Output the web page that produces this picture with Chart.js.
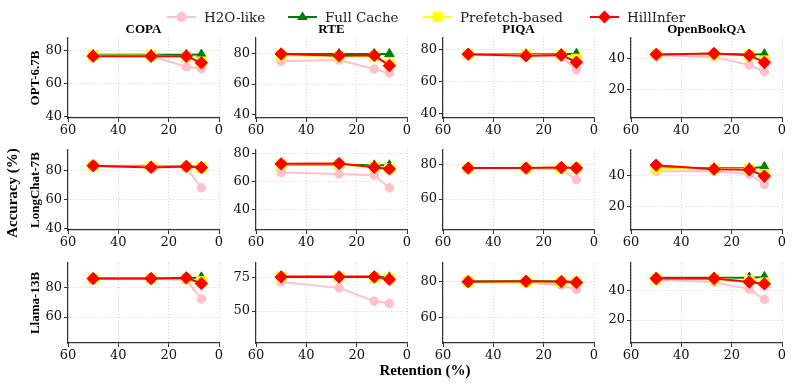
<!DOCTYPE html>
<html>
<head>
<meta charset="utf-8">
<script src="https://cdn.jsdelivr.net/npm/chart.js@4.4.0/dist/chart.umd.min.js"></script>
<style>
    body { margin: 0; background: #fff; width: 793px; height: 384px; position: relative; overflow: hidden; }
    canvas { position: absolute; }
    .lbl { position: absolute; font-family: 'Liberation Serif', 'Times New Roman', serif; font-weight: bold; color: #000; white-space: nowrap; }
    .rot { transform: translate(-50%, -50%) rotate(-90deg); }
    .ctr { transform: translate(-50%, -50%); }
    .leg { position: absolute; top: 9px; height: 16px; display: flex; align-items: center; font-family: 'DejaVu Serif', serif; font-size: 13.5px; color: #222; white-space: nowrap; }
    .leg svg { margin-right: 8px; }
</style>
</head>
<body>
<script>
// x values and labels
const retention = [50, 27, 13, 7];
const tasks = ['COPA', 'RTE', 'PIQA', 'OpenBookQA'];
const models = ['OPT-6.7B', 'LongChat-7B', 'Llama-13B'];
const methods = ['H2O-like', 'Full Cache', 'Prefetch-based', 'HillInfer'];

// accuracy per task (COPA, RTE, PIQA, OpenBookQA), 4 retention points each
const optH2O      = [[76.5, 76.5, 70, 68.8], [74.8, 75.7, 69.8, 67.2], [77, 76, 75.5, 67.3], [42, 41, 35.7, 31.4]];
const optFull     = [[77.2, 77.2, 77.2, 77.4], [79.6, 79.6, 79.6, 79.6], [77, 77, 77, 77.2], [42.5, 43, 42.5, 42.7]];
const optPrefetch = [[76.8, 76.8, 76, 73], [78.8, 78.2, 78.2, 73], [77, 76.5, 76.5, 74], [42.5, 42.5, 42, 38.5]];
const optHill     = [[76.4, 76.4, 76.4, 72.4], [79.6, 78.5, 78.7, 72], [77, 76, 76.5, 72], [42.6, 43.2, 42.1, 37.4]];

const lcH2O      = [[83, 83.5, 82, 68.2], [66.5, 65.5, 64.6, 55.6], [78, 78, 77.5, 71.3], [43, 43, 41, 34.3]];
const lcFull     = [[83, 82.8, 82.8, 82.5], [72, 72, 71.7, 71.7], [78, 78, 78.2, 78], [45.5, 45, 45, 45.8]];
const lcPrefetch = [[83, 82.5, 82.5, 82], [72.2, 72.2, 70.5, 69.5], [78, 78, 78, 78], [45, 44.5, 44.5, 41]];
const lcHill     = [[83.3, 82.1, 82.8, 82], [72.7, 72.9, 70.3, 69.1], [78, 78, 78.3, 78], [47, 44.4, 44, 39.8]];

const llH2O      = [[86, 86, 85, 72.2], [72, 67.5, 57.5, 55.8], [80, 79.5, 78, 75.5], [47.5, 46, 41, 34.2]];
const llFull     = [[86, 86, 86, 86.8], [76, 76, 76, 75.5], [80.2, 80.2, 80.2, 80], [49, 49, 49, 49.5]];
const llPrefetch = [[86, 86, 86, 84], [75.8, 75.8, 75.5, 74.5], [80, 80, 80, 79.8], [48, 48, 47, 45.5]];
const llHill     = [[86, 86, 86.5, 82.7], [75.8, 75.8, 75.8, 74], [80, 80.2, 80, 79.5], [48.4, 48.4, 46, 44.7]];

// y-axis limits and tick steps per panel
const optYLim = [[39, 87.4], [37.9, 90], [37.5, 87], [1.5, 53.2]];
const lcYLim  = [[39.3, 94], [25.5, 82.6], [42, 88.5], [4.3, 57]];
const llYLim  = [[42.5, 96.5], [25.8, 86.3], [45.5, 90.5], [4.3, 59]];
const yStep   = [[20, 20, 20, 20], [20, 20, 20, 20], [20, 25, 20, 20]];

const seriesByModel = [
    [optH2O, optFull, optPrefetch, optHill],
    [lcH2O, lcFull, lcPrefetch, lcHill],
    [llH2O, llFull, llPrefetch, llHill]
];
const yLims = [optYLim, lcYLim, llYLim];

const styles = [
    { color: 'pink', pointStyle: 'circle', radius: 4.3, order: 4 },
    { color: 'green', pointStyle: 'triangle', radius: 5.5, order: 3 },
    { color: 'yellow', pointStyle: 'rect', radius: 6.8, order: 2 },
    { color: 'red', pointStyle: 'rectRot', radius: 6.2, order: 1 }
];

// plot area geometry
const colLeft = [68, 256, 443, 631];
const rowTop = [38, 150, 263];
const plotW = 151, plotH = 80;
const PADL = 44, PADR = 16, PADT = 16, PADB = 26;

const tickFont = { family: 'DejaVu Serif', size: 13 };
const gridColor = 'rgba(0,0,0,0.22)';

models.forEach((model, r) => {
    tasks.forEach((task, c) => {
        const canvas = document.createElement('canvas');
        canvas.width = plotW + PADL + PADR;
        canvas.height = plotH + PADT + PADB;
        canvas.style.left = (colLeft[c] - PADL) + 'px';
        canvas.style.top = (rowTop[r] - PADT) + 'px';
        document.body.appendChild(canvas);

        const datasets = methods.map((m, k) => ({
            label: m,
            data: retention.map((x, i) => ({ x: x, y: seriesByModel[r][k][c][i] })),
            borderColor: styles[k].color,
            backgroundColor: styles[k].color,
            borderWidth: 2,
            pointStyle: styles[k].pointStyle,
            pointRadius: styles[k].radius,
            pointBorderWidth: 1,
            pointBackgroundColor: styles[k].color,
            pointBorderColor: styles[k].color,
            order: styles[k].order,
            tension: 0
        }));

        new Chart(canvas, {
            type: 'line',
            data: { datasets },
            options: {
                responsive: false,
                animation: false,
                layout: { padding: { left: 0, right: PADR, top: PADT, bottom: 0 } },
                plugins: { legend: { display: false }, tooltip: { enabled: false } },
                scales: {
                    x: {
                        type: 'linear',
                        reverse: true,
                        min: 0,
                        max: 60,
                        afterFit: (s) => { s.height = PADB; },
                        ticks: { stepSize: 20, font: tickFont, color: '#111', padding: 1, maxRotation: 0 },
                        grid: { color: gridColor, lineWidth: 0.8, tickColor: '#333', tickLength: 4, tickWidth: 1, tickBorderDash: [] },
                        border: { color: '#333', width: 1.2, dash: [1, 2] }
                    },
                    y: {
                        type: 'linear',
                        min: yLims[r][c][0],
                        max: yLims[r][c][1],
                        afterFit: (s) => { s.width = PADL; },
                        ticks: { stepSize: yStep[r][c], includeBounds: false, font: tickFont, color: '#111', padding: 2 },
                        grid: { color: gridColor, lineWidth: 0.8, tickColor: '#333', tickLength: 4, tickWidth: 1, tickBorderDash: [] },
                        border: { color: '#333', width: 1.2, dash: [1, 2] }
                    }
                }
            }
        });
    });
});

// column titles
const titleY = 29;
tasks.forEach((task, c) => {
    const d = document.createElement('div');
    d.className = 'lbl ctr';
    d.style.fontSize = '13px';
    d.style.left = (colLeft[c] + plotW / 2) + 'px';
    d.style.top = titleY + 'px';
    d.textContent = task;
    document.body.appendChild(d);
});

// row labels
models.forEach((model, r) => {
    const d = document.createElement('div');
    d.className = 'lbl rot';
    d.style.fontSize = '13px';
    d.style.left = '35px';
    d.style.top = (rowTop[r] + plotH / 2) + 'px';
    d.textContent = model;
    document.body.appendChild(d);
});

// shared axis titles
const yTitle = document.createElement('div');
yTitle.className = 'lbl rot';
yTitle.style.fontSize = '15px';
yTitle.style.left = '12px';
yTitle.style.top = '193px';
yTitle.textContent = 'Accuracy (%)';
document.body.appendChild(yTitle);

const xTitle = document.createElement('div');
xTitle.className = 'lbl ctr';
xTitle.style.fontSize = '15px';
xTitle.style.left = '425px';
xTitle.style.top = '370px';
xTitle.textContent = 'Retention (%)';
document.body.appendChild(xTitle);

// legend
const legendX = [167, 288, 423, 590];
const markerSvg = [
    '<circle cx="14.5" cy="8" r="5" fill="pink"/>',
    '<polygon points="14.5,2.5 20,11 9,11" fill="green"/>',
    '<rect x="9.5" y="3" width="10" height="10" fill="yellow"/>',
    '<polygon points="14.5,1.5 21,8 14.5,14.5 8,8" fill="red"/>'
];
methods.forEach((m, k) => {
    const item = document.createElement('div');
    item.className = 'leg';
    item.style.left = legendX[k] + 'px';
    item.innerHTML = '<svg width="29" height="16"><line x1="0" y1="8" x2="29" y2="8" stroke="' +
        styles[k].color + '" stroke-width="2"/>' + markerSvg[k] + '</svg><span>' + m + '</span>';
    document.body.appendChild(item);
});
</script>
</body>
</html>
